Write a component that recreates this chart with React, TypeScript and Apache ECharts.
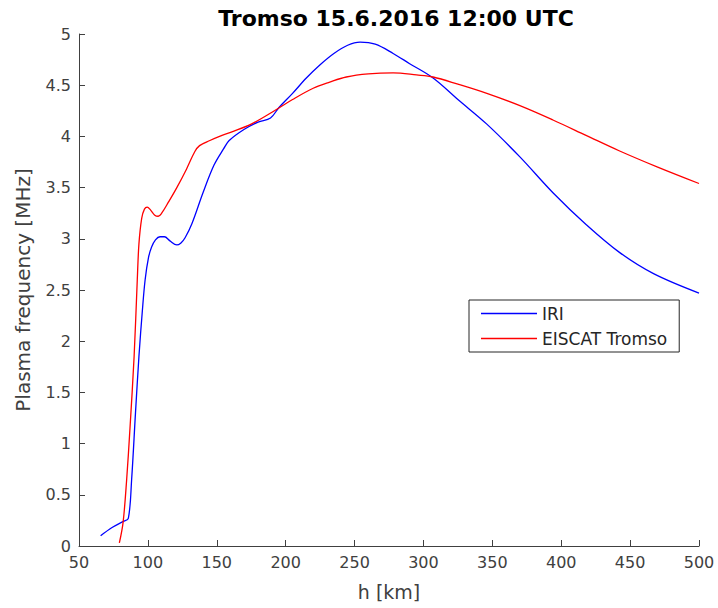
import React, { useEffect, useRef } from "react";
import * as echarts from "echarts";

const titleText = "Tromso 15.6.2016 12:00 UTC";
const xName = "h [km]";
const yName = "Plasma frequency [MHz]";
const seriesNames = ["IRI", "EISCAT Tromso"];

// IRI profile: [height km, plasma frequency MHz]
const iriH = [65.7, 74, 82.2, 85.8, 88.2, 91, 93.5, 96, 98, 100.5, 102.7, 105.5, 108.8, 112, 116, 121, 124, 127, 132, 140, 148, 155, 159, 170, 180, 189, 195, 205, 215, 225, 235, 245, 254, 265, 278, 290, 307, 325, 346, 370, 394, 418, 442, 467, 500];
const iriF = [0.1, 0.18, 0.24, 0.27, 0.65, 1.3, 1.85, 2.3, 2.6, 2.82, 2.92, 2.99, 3.02, 3.02, 2.98, 2.94, 2.96, 3.01, 3.15, 3.45, 3.72, 3.88, 3.96, 4.07, 4.14, 4.18, 4.28, 4.42, 4.57, 4.7, 4.81, 4.89, 4.92, 4.9, 4.81, 4.71, 4.57, 4.36, 4.12, 3.8, 3.45, 3.14, 2.87, 2.66, 2.47];

// EISCAT Tromso profile
const eiscatH = [79.3, 82, 84.6, 87, 90, 92.3, 93.5, 95.5, 97.5, 99.5, 102, 105, 107.5, 110, 115, 121, 128, 134, 137.5, 145, 152, 160, 175, 193, 205, 220, 232, 244, 260, 278, 295, 307, 325, 346, 370, 394, 418, 442, 470, 500];
const eiscatF = [0.03, 0.23, 0.65, 1.15, 1.85, 2.6, 2.95, 3.2, 3.29, 3.31, 3.28, 3.23, 3.22, 3.25, 3.36, 3.5, 3.68, 3.85, 3.91, 3.96, 4.0, 4.04, 4.12, 4.26, 4.36, 4.47, 4.53, 4.58, 4.61, 4.62, 4.6, 4.58, 4.51, 4.42, 4.3, 4.16, 4.01, 3.86, 3.7, 3.54];

const xMin = 50, xMax = 500, xStep = 50;
const yMin = 0, yMax = 5, yStep = 0.5;

const axisColor = "#404040";
const font = "DejaVu Sans";

export default function App() {
  const ref = useRef<HTMLDivElement>(null);
  useEffect(() => {
    document.body.style.margin = "0";
    const chart = echarts.init(ref.current!, null, { renderer: "svg" });
    const iri = iriH.map((h, i) => [h, iriF[i]]);
    const eis = eiscatH.map((h, i) => [h, eiscatF[i]]);
    chart.setOption({
      animation: false,
      backgroundColor: "#ffffff",
      title: {
        text: titleText,
        left: 391,
        textAlign: "center",
        top: 2,
        textStyle: { fontFamily: font, fontSize: 22, fontWeight: "bold", color: "#000" },
      },
      grid: { left: 79, right: 19, top: 34, bottom: 62, containLabel: false },
      legend: {
        orient: "vertical",
        left: 469,
        top: 300,
        data: seriesNames,
        icon: "rect",
        itemWidth: 56,
        itemHeight: 1.5,
        itemGap: 6,
        padding: [4, 12, 4, 12],
        borderColor: "#262626",
        borderWidth: 1,
        backgroundColor: "#fff",
        borderRadius: 0,
        textStyle: { fontFamily: font, fontSize: 17, color: "#262626", lineHeight: 19 },
      },
      xAxis: {
        type: "value",
        min: xMin,
        max: xMax,
        interval: xStep,
        name: xName,
        nameLocation: "middle",
        nameGap: 36,
        nameTextStyle: { fontFamily: font, fontSize: 19, color: axisColor },
        axisLine: { show: true, onZero: false, lineStyle: { color: axisColor, width: 1 } },
        axisTick: { show: true, inside: true, length: 6, lineStyle: { color: axisColor } },
        axisLabel: { fontFamily: font, fontSize: 16, color: axisColor, margin: 8 },
        splitLine: { show: false },
      },
      yAxis: {
        type: "value",
        min: yMin,
        max: yMax,
        interval: yStep,
        name: yName,
        nameLocation: "middle",
        nameGap: 46,
        nameTextStyle: { fontFamily: font, fontSize: 20, color: axisColor },
        axisLine: { show: true, onZero: false, lineStyle: { color: axisColor, width: 1 } },
        axisTick: { show: true, inside: true, length: 6, lineStyle: { color: axisColor } },
        axisLabel: { fontFamily: font, fontSize: 16, color: axisColor, margin: 8 },
        splitLine: { show: false },
      },
      series: [
        {
          name: seriesNames[0],
          type: "line",
          data: iri,
          symbol: "none",
          smooth: 0.35,
          lineStyle: { color: "#0000ff", width: 1.3 },
          itemStyle: { color: "#0000ff" },
        },
        {
          name: seriesNames[1],
          type: "line",
          data: eis,
          symbol: "none",
          smooth: 0.35,
          lineStyle: { color: "#ff0000", width: 1.3 },
          itemStyle: { color: "#ff0000" },
        },
      ],
    });
    return () => chart.dispose();
  }, []);
  return <div ref={ref} style={{ width: 718, height: 608 }} />;
}
